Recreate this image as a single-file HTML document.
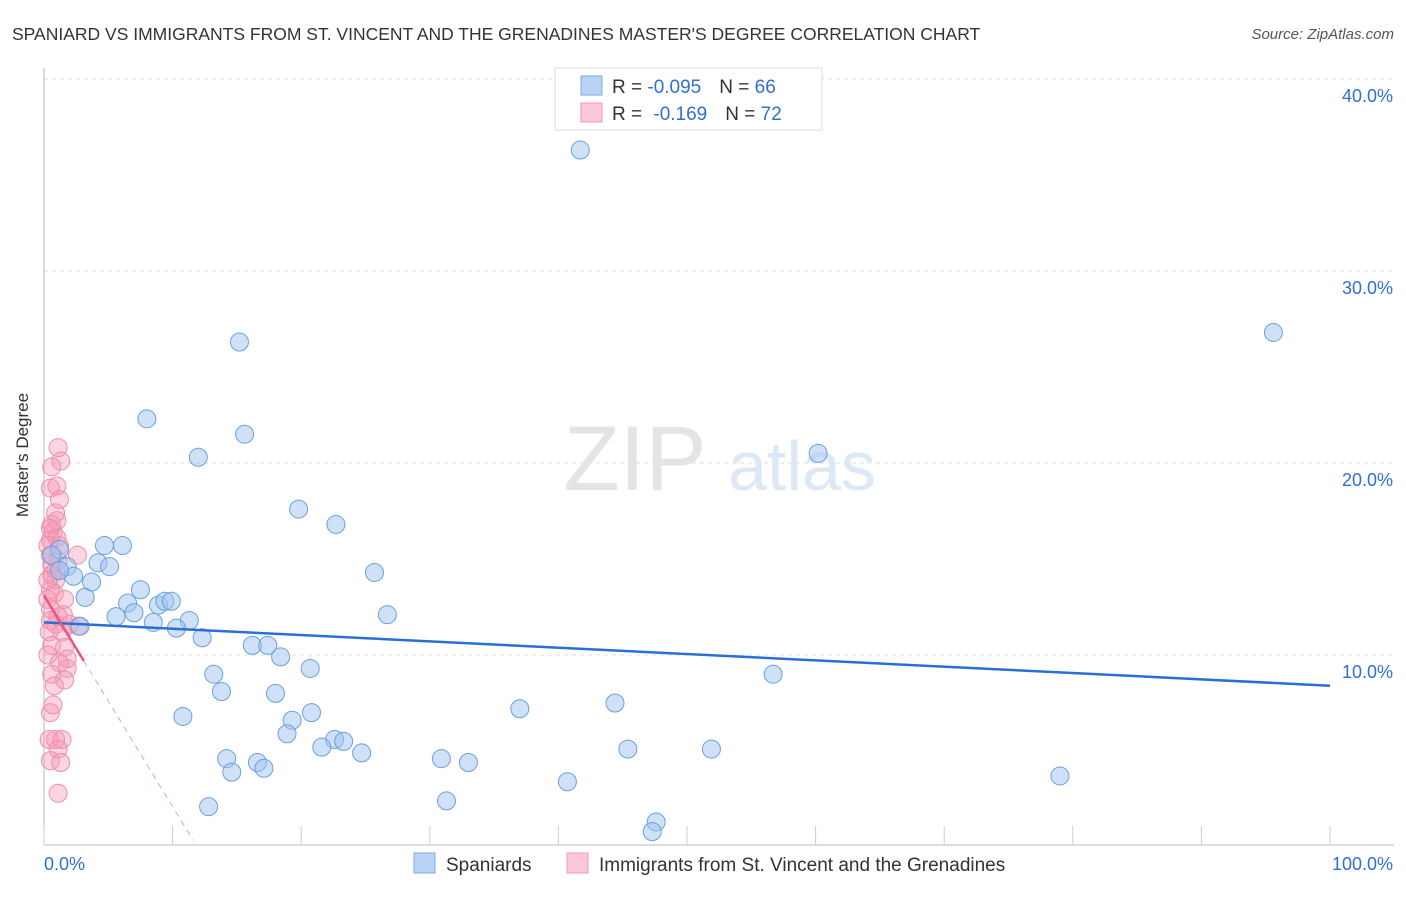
<!DOCTYPE html>
<html><head><meta charset="utf-8"><style>
body{margin:0;background:#fff;font-family:"Liberation Sans",sans-serif;}
svg text{font-family:"Liberation Sans",sans-serif;}
</style></head><body>
<svg id="chart" width="1406" height="892" viewBox="0 0 1406 892">
<text x="12" y="40" font-size="17.5" fill="#333">SPANIARD VS IMMIGRANTS FROM ST. VINCENT AND THE GRENADINES MASTER'S DEGREE CORRELATION CHART</text>
<text x="1394" y="39" font-size="15" fill="#555" font-style="italic" text-anchor="end">Source: ZipAtlas.com</text>
<g id="grid"></g>
<g>
<text x="635" y="490" font-size="92" fill="#e4e4e4" font-family="Liberation Serif" text-anchor="middle">ZIP</text>
<text x="802" y="490" font-size="70" fill="#dce8f6" text-anchor="middle">atlas</text>
</g>
<line x1="44" y1="68" x2="44" y2="845" stroke="#bbb"/>
<line x1="44" y1="845" x2="1394" y2="845" stroke="#bbb"/>
<text x="28" y="455" font-size="17" fill="#333" text-anchor="middle" transform="rotate(-90 28 455)">Master's Degree</text>
<g id="ticks"></g>
<g id="pink"></g>
<g id="blue"></g>
<g id="trends"></g>
<g>
<rect x="555" y="68" width="267" height="62" fill="#fff" stroke="#ddd"/>
<rect x="581" y="76" width="21" height="19" fill="#b9d3f5" stroke="#7aa9e6"/>
<rect x="581" y="103" width="21" height="19" fill="#fcc8d6" stroke="#f09ab3"/>
<text x="612" y="93" font-size="19" fill="#333">R = <tspan fill="#2f6fd6">-0.095</tspan><tspan dx="18">N = </tspan><tspan fill="#2f6fd6">66</tspan></text>
<text x="612" y="120" font-size="19" fill="#333">R = <tspan dx="6" fill="#2f6fd6">-0.169</tspan><tspan dx="18">N = </tspan><tspan fill="#2f6fd6">72</tspan></text>
</g>
<g>
<rect x="414" y="853" width="21" height="20" fill="#b9d3f5" stroke="#7aa9e6"/>
<text x="446" y="871" font-size="19" fill="#333">Spaniards</text>
<rect x="567" y="853" width="21" height="20" fill="#fcc8d6" stroke="#f09ab3"/>
<text x="599" y="871" font-size="19" fill="#333">Immigrants from St. Vincent and the Grenadines</text>
</g>
</svg>
<script>
const blueX=[41.7,15.2,95.6,8.0,15.6,12.0,60.2,19.8,22.7,4.7,6.1,1.2,4.2,5.1,1.8,2.3,3.7,25.7,7.5,3.2,6.5,8.9,9.4,9.9,5.6,7.0,8.5,11.3,10.3,26.7,12.3,2.8,16.2,17.4,18.4,20.7,13.2,56.7,13.8,18.0,10.8,20.8,19.3,18.9,37.0,44.4,22.6,21.6,23.3,24.7,45.4,51.9,14.2,16.6,30.9,33.0,14.6,17.1,79.0,40.7,12.8,31.3,47.6,47.3,0.6,1.2];
const blueY=[36.3,26.3,26.8,22.3,21.5,20.3,20.5,17.6,16.8,15.7,15.7,15.5,14.8,14.6,14.6,14.1,13.8,14.3,13.4,13.0,12.7,12.6,12.8,12.8,12.0,12.2,11.7,11.8,11.4,12.1,10.9,11.5,10.5,10.5,9.9,9.3,9.0,9.0,8.1,8.0,6.8,7.0,6.6,5.9,7.2,7.5,5.6,5.2,5.5,4.9,5.1,5.1,4.6,4.4,4.6,4.4,3.9,4.1,3.7,3.4,2.1,2.4,1.3,0.8,15.2,14.4];
const pinkX=[1.1,1.3,0.6,0.5,1.0,1.2,0.9,0.5,0.7,0.5,1.0,2.6,0.5,0.6,0.6,0.9,0.5,0.8,1.6,0.5,1.5,0.5,1.1,0.4,1.4,0.6,1.6,0.3,1.2,1.8,0.6,1.6,0.8,0.5,0.9,1.4,0.4,1.1,0.5,1.3,1.1,0.9,1.1,0.3,0.3,0.9,2.0,2.7,0.6,0.3,1.8,0.7,1.0,1.2];
const pinkY=[20.8,20.1,19.8,18.7,18.8,18.1,17.4,16.6,16.4,16.0,16.1,15.2,15.2,14.7,14.2,13.9,13.4,13.2,12.9,12.4,12.1,11.8,12.0,11.2,11.2,10.5,10.4,10.0,9.6,9.3,9.0,8.7,8.4,7.0,5.6,5.6,5.6,5.1,4.5,4.4,2.8,14.4,14.9,15.7,12.9,11.6,11.6,11.5,16.8,13.9,9.8,7.4,17.0,15.7];
const yTicks=[10,20,30,40];
const yTickLabels=["10.0%","20.0%","30.0%","40.0%"];
const xTickVals=[0,10,20,30,40,50,60,70,80,90,100];
const blueTrend=[11.7,8.4];
const pinkTrend=[13.1,-1.1];
const pinkSolidEnd=3.1;
const pinkDashEnd=11.6;

const NS="http://www.w3.org/2000/svg";
const sx=v=>44+v*12.86;
const sy=v=>847-v*19.2;
function mk(tag,attrs,parent){const e=document.createElementNS(NS,tag);for(const k in attrs)e.setAttribute(k,attrs[k]);parent.appendChild(e);return e;}
const grid=document.getElementById('grid'),ticks=document.getElementById('ticks');
yTicks.forEach((t,i)=>{
  const l=mk('line',{x1:44,x2:1394,y1:sy(t),y2:sy(t),stroke:'#ddd','stroke-dasharray':'4,4'},grid);
  
  
  const tx=mk('text',{x:1393,y:sy(t)+23,'font-size':18,fill:'#2f6fd6','text-anchor':'end'},ticks);
  tx.textContent=yTickLabels[i];
  
  
});
xTickVals.forEach(t=>{
  const l=mk('line',{x1:sx(t),x2:sx(t),y1:826,y2:845,stroke:'#ccc'},ticks);
  
  
});
const x0=mk('text',{x:44,y:870,'font-size':18,fill:'#2f6fd6'},ticks);x0.textContent='0.0%';


const x1=mk('text',{x:1393,y:870,'font-size':18,fill:'#2f6fd6','text-anchor':'end'},ticks);x1.textContent='100.0%';


const pg=document.getElementById('pink');
pinkX.forEach((v,i)=>{
  const c=mk('circle',{cx:sx(v),cy:sy(pinkY[i]),r:9,fill:'rgba(245,150,180,0.4)',stroke:'#ee8fab','stroke-width':1},pg);
  
  
});
const bg=document.getElementById('blue');
blueX.forEach((v,i)=>{
  const c=mk('circle',{cx:sx(v),cy:sy(blueY[i]),r:9,fill:'rgba(160,195,240,0.5)',stroke:'#6a9fe0','stroke-width':1},bg);
  
  
});
const tg=document.getElementById('trends');
const bl=mk('line',{x1:sx(0),y1:sy(blueTrend[0]),x2:sx(100),y2:sy(blueTrend[1]),stroke:'#2a6fd6','stroke-width':2.5},tg);


const pf=x=>pinkTrend[0]+pinkTrend[1]*x;
const ps=mk('line',{x1:sx(0),y1:sy(pf(0)),x2:sx(pinkSolidEnd),y2:sy(pf(pinkSolidEnd)),stroke:'#e8557f','stroke-width':2.5},tg);


const pd=mk('line',{x1:sx(pinkSolidEnd),y1:sy(pf(pinkSolidEnd)),x2:sx(pinkDashEnd),y2:sy(pf(pinkDashEnd)),stroke:'#eda0b5','stroke-width':1,'stroke-dasharray':'6,5'},tg);


</script>
</body></html>
